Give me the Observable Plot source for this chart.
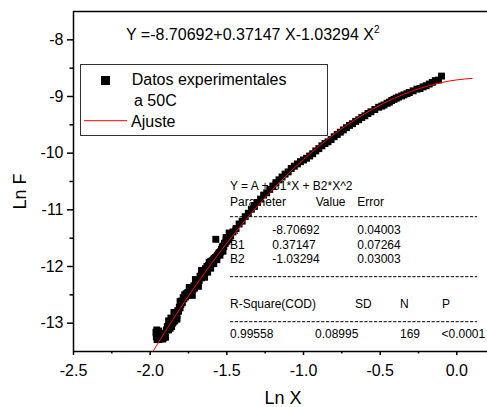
<!DOCTYPE html>
<html><head><meta charset="utf-8">
<script src="https://cdn.jsdelivr.net/npm/d3@7"></script>
<script src="https://cdn.jsdelivr.net/npm/@observablehq/plot@0.6"></script>
<style>
html,body{margin:0;padding:0;background:#fff;}
#chart{width:487px;height:407px;}
</style></head><body><div id="chart"></div>
<script>
// ---- data ----
const ptX = [
 -1.962,-1.960,-1.957,-1.955,-1.951,-1.948,-1.944,-1.940,-1.936,-1.931,-1.927,-1.922,-1.917,-1.912,-1.906,-1.900,-1.894,-1.888,
 -1.880,-1.875,-1.870,-1.865,-1.860,-1.855,-1.850,-1.845,-1.840,-1.835,-1.830,-1.825,-1.820,-1.815,-1.810,-1.805,-1.800,-1.795,-1.790,-1.785,-1.780,-1.775,-1.770,-1.765,-1.760,-1.755,-1.750,-1.745,-1.740,-1.735,-1.730,-1.725,-1.720,-1.715,-1.710,-1.705,-1.700,-1.695,-1.690,-1.685,-1.680,-1.675,-1.670,-1.665,-1.660,-1.655,-1.650,-1.645,-1.640,-1.635,-1.630,-1.625,-1.620,-1.615,-1.610,-1.605,-1.600,-1.595,-1.590,-1.585,-1.580,-1.575,-1.570,-1.565,-1.560,-1.555,-1.550,-1.545,-1.540,-1.535,-1.530,-1.525,-1.520,-1.515,-1.510,-1.505,-1.500,-1.495,-1.490,-1.485,-1.480,-1.475,
 -1.880,-1.865,-1.845,-1.825,-1.805,-1.745,-1.725,-1.705,-1.685,-1.665,-1.645,-1.625,-1.605,-1.585,-1.565,-1.545,-1.525,-1.505,-1.485,
 -1.572,
 -1.46,-1.44,-1.42,-1.40,-1.38,-1.36,-1.34,-1.32,-1.30,-1.28,-1.26,-1.24,-1.22,-1.20,-1.18,-1.16,-1.14,-1.12,-1.10,-1.08,-1.06,-1.04,-1.02,-1.00,
 -0.98,-0.96,-0.94,-0.92,-0.90,-0.88,-0.86,-0.84,-0.82,-0.80,-0.78,-0.76,-0.74,-0.72,-0.70,-0.68,-0.66,-0.64,-0.62,-0.60,-0.58,-0.56,
 -0.535,-0.51,-0.49,-0.475,-0.455,-0.44,-0.425,-0.41,-0.395,-0.38,-0.36,-0.345,-0.325,-0.31,-0.285,-0.26,-0.24,-0.22,-0.20,-0.18,-0.16,-0.14,-0.12,-0.10
];
const ptY = [
 -13.16,-13.24,-13.12,-13.29,-13.20,-13.29,-13.14,-13.26,-13.28,-13.22,-13.27,-13.18,-13.28,-13.24,-13.20,-13.25,-13.12,-13.06,
 -13.12,-13.06,-13.09,-13.03,-13.06,-13.00,-12.98,-12.93,-12.96,-12.90,-12.85,-12.87,-12.78,-12.79,-12.72,-12.73,-12.67,-12.61,-12.64,-12.55,-12.57,-12.50,-12.54,-12.48,-12.51,-12.46,-12.48,-12.43,-12.46,-12.41,-12.45,-12.39,-12.40,-12.34,-12.38,-12.32,-12.31,-12.25,-12.31,-12.24,-12.25,-12.17,-12.19,-12.20,-12.13,-12.14,-12.10,-12.12,-12.04,-12.06,-12.00,-12.04,-11.98,-11.93,-11.96,-11.91,-11.92,-11.90,-11.90,-11.87,-11.86,-11.84,-11.84,-11.82,-11.80,-11.78,-11.76,-11.75,-11.74,-11.70,-11.66,-11.64,-11.65,-11.59,-11.59,-11.55,-11.55,-11.50,-11.52,-11.49,-11.44,-11.46,
 -12.96,-12.91,-12.81,-12.93,-12.62,-12.37,-12.51,-12.23,-12.35,-12.07,-12.19,-12.10,-12.03,-11.95,-11.88,-11.80,-11.73,-11.49,-11.41,
 -11.52,
 -11.39,-11.33,-11.25,-11.20,-11.12,-11.06,-10.99,-10.94,-10.87,-10.81,-10.74,-10.70,-10.64,-10.58,-10.52,-10.47,-10.42,-10.37,-10.33,-10.27,-10.23,-10.19,-10.15,-10.12,
 -10.09,-10.05,-10.01,-9.96,-9.92,-9.87,-9.83,-9.80,-9.76,-9.71,-9.67,-9.63,-9.59,-9.55,-9.51,-9.48,-9.44,-9.41,-9.37,-9.34,-9.30,-9.27,
 -9.23,-9.19,-9.17,-9.15,-9.12,-9.10,-9.07,-9.05,-9.03,-9.01,-8.99,-8.97,-8.95,-8.93,-8.90,-8.87,-8.86,-8.83,-8.81,-8.78,-8.75,-8.72,-8.71,-8.64
];
// fitted curve, sampled from the red line
const fitX = [-1.98,-1.9,-1.8,-1.7,-1.6,-1.5,-1.4,-1.3,-1.2,-1.1,-1.0,-0.9,-0.8,-0.7,-0.6,-0.5,-0.4,-0.3,-0.2,-0.1,0,0.1];
const fitY = [-13.492,-13.142,-12.722,-12.324,-11.946,-11.588,-11.252,-10.936,-10.640,-10.365,-10.111,-9.878,-9.665,-9.473,-9.302,-9.151,-9.021,-8.911,-8.823,-8.754,-8.707,-8.680];

const xMajor = [-2.5,-2.0,-1.5,-1.0,-0.5,0.0];
const xMinor = [-2.25,-1.75,-1.25,-0.75,-0.25];
const yMajor = [-8,-9,-10,-11,-12,-13];
const yMinor = [-8.5,-9.5,-10.5,-11.5,-12.5];

const paramNames = ["A","B1","B2"];
const paramValues = ["-8.70692","0.37147","-1.03294"];
const paramErrors = ["0.04003","0.07264","0.03003"];
const statNames = ["R-Square(COD)","SD","N","P"];
const statValues = ["0.99558","0.08995","169","<0.0001"];
const legendLabels = ["Datos experimentales","a 50C","Ajuste"];
const modelText = "Y = A + B1*X + B2*X^2";
const xTitle = "Ln X", yTitle = "Ln F";

// ---- chart ----
const FONT = '"Liberation Sans", Arial, Helvetica, sans-serif';
const points = ptX.map((x, i) => ({x, y: ptY[i]}));
const fit = fitX.map((x, i) => ({x, y: fitY[i]}));

const plot = Plot.plot({
  width: 487, height: 407,
  marginLeft: 73, marginRight: 0, marginTop: 11, marginBottom: 56,
  style: {fontFamily: FONT, fontSize: "16px", color: "#000", background: "#fff", overflow: "visible"},
  x: {domain: [-2.5, 0.2]},
  y: {domain: [-13.5, -7.5]},
  marks: [
    Plot.axisX(xMajor, {tickSize: 4, tickPadding: 9, strokeWidth: 1.5, tickFormat: d => d.toFixed(1), label: null, fontSize: 16}),
    Plot.axisX(xMinor, {tickSize: 2.5, strokeWidth: 1.5, fill: "none", label: null}),
    Plot.axisY(yMajor, {tickSize: 6, tickPadding: 4, strokeWidth: 1.5, tickFormat: d => String(d), label: null, fontSize: 16}),
    Plot.axisY(yMinor, {tickSize: 3.5, strokeWidth: 1.5, fill: "none", label: null}),
    Plot.ruleX([-2.5], {strokeWidth: 1.5}),
    Plot.ruleY([-13.5, -7.5], {strokeWidth: 1.5}),
    Plot.dot(points, {x: "x", y: "y", symbol: "square", r: 3.9, fill: "#000", stroke: null}),
    Plot.line(fit, {x: "x", y: "y", stroke: "#ff0000", strokeWidth: 1, curve: "natural"})
  ]
});
document.getElementById("chart").appendChild(plot);

const svg = d3.select(plot);

// parameter table (behind the data)
const tbl = svg.insert("g", ":first-child")
  .attr("font-family", FONT).attr("font-size", 12).attr("fill", "#000").attr("text-anchor", "start");
tbl.append("text").attr("x", 230).attr("y", 190).text(modelText);
tbl.append("text").attr("x", 230).attr("y", 205.7).text("Parameter");
tbl.append("text").attr("x", 315.7).attr("y", 205.7).text("Value");
tbl.append("text").attr("x", 357.3).attr("y", 205.7).text("Error");
paramNames.forEach((n, i) => {
  const by = 234 + i * 14.7;
  tbl.append("text").attr("x", 230).attr("y", by).text(n);
  tbl.append("text").attr("x", 272.3).attr("y", by).text(paramValues[i]);
  tbl.append("text").attr("x", 357.3).attr("y", by).text(paramErrors[i]);
});
const statCols = [230, 355, 400, 442];
const statValCols = [230, 315, 400, 441.5];
statNames.forEach((s, i) => tbl.append("text").attr("x", statCols[i]).attr("y", 308.3).text(s));
statValues.forEach((s, i) => tbl.append("text").attr("x", statValCols[i]).attr("y", 338.3).text(s));
[216.7, 276.7, 321.7].forEach(yy => tbl.append("line")
  .attr("x1", 230).attr("x2", 477).attr("y1", yy).attr("y2", yy)
  .attr("stroke", "#000").attr("stroke-width", 1).attr("stroke-dasharray", "3.2 1.6"));

// equation
const eq = svg.append("text").attr("x", 126).attr("y", 40).attr("text-anchor", "start")
  .attr("font-family", FONT).attr("font-size", 16).attr("fill", "#000");
eq.append("tspan").text(`Y =${paramValues[0]}+${paramValues[1]} X${paramValues[2]} X`);
eq.append("tspan").attr("dy", -7).attr("font-size", 10).text("2");

// legend
const lg = svg.append("g").attr("font-family", FONT).attr("font-size", 16).attr("fill", "#000").attr("text-anchor", "start");
lg.append("rect").attr("x", 80.5).attr("y", 64.5).attr("width", 247).attr("height", 71)
  .attr("fill", "none").attr("stroke", "#333").attr("stroke-width", 1);
lg.append("rect").attr("x", 101).attr("y", 76).attr("width", 9).attr("height", 9).attr("fill", "#000");
lg.append("text").attr("x", 131.7).attr("y", 85).text(legendLabels[0]);
lg.append("text").attr("x", 134).attr("y", 106).text(legendLabels[1]);
lg.append("line").attr("x1", 84).attr("x2", 127).attr("y1", 120.7).attr("y2", 120.7)
  .attr("stroke", "#ff0000").attr("stroke-width", 1);
lg.append("text").attr("x", 131).attr("y", 126.7).text(legendLabels[2]);

// axis titles
svg.append("text").attr("x", 283).attr("y", 404).attr("text-anchor", "middle")
  .attr("font-family", FONT).attr("font-size", 18).attr("fill", "#000").text(xTitle);
svg.append("text").attr("transform", "translate(26,191.5) rotate(-90)").attr("text-anchor", "middle")
  .attr("font-family", FONT).attr("font-size", 18).attr("fill", "#000").text(yTitle);
</script></body></html>
